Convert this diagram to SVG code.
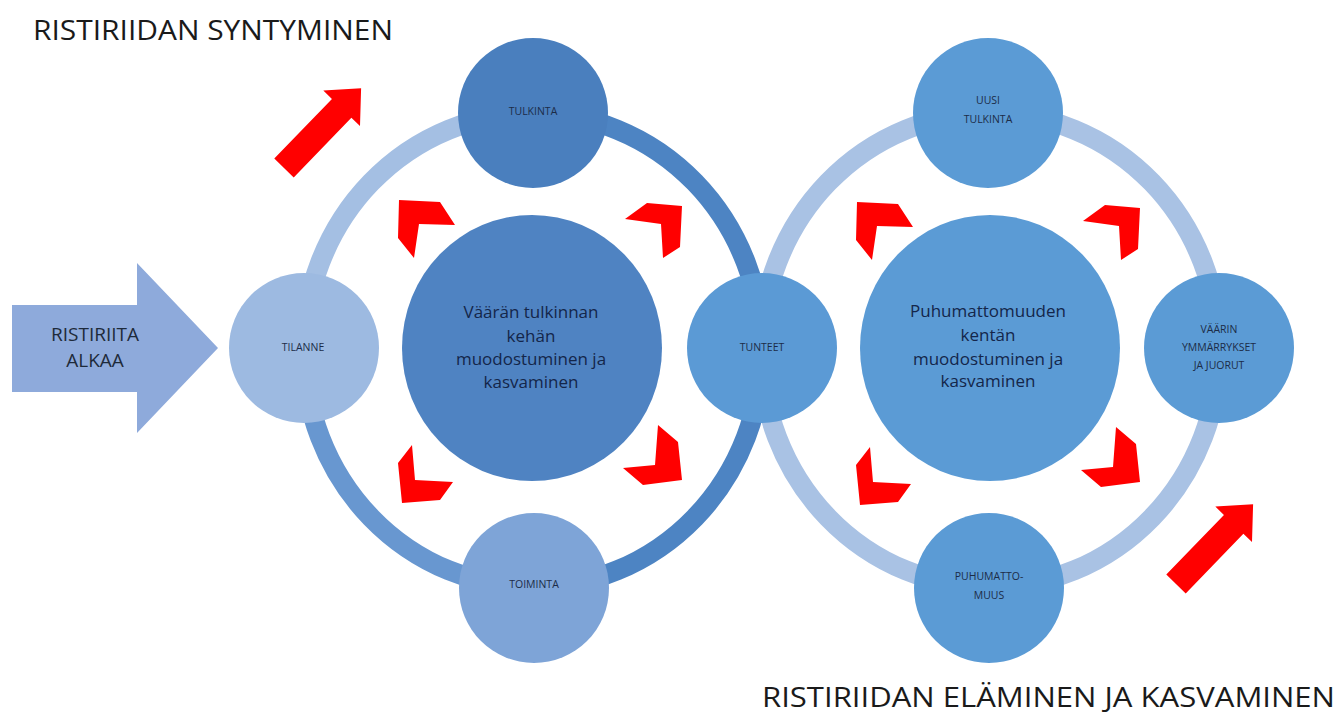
<svg xmlns="http://www.w3.org/2000/svg" width="1340" height="716" viewBox="0 0 1340 716">
  <style>
    .title { font-family: "Open Sans", "Liberation Sans", sans-serif; font-size: 27px; fill: #1a1a1a; }
    .lbl { font-family: "Open Sans", "Liberation Sans", sans-serif; font-size: 10.5px; fill: #1c2c48; text-anchor: middle; dominant-baseline: middle; }
    .big { font-family: "Open Sans", "Liberation Sans", sans-serif; font-size: 17px; fill: #14264a; text-anchor: middle; dominant-baseline: middle; }
    .arrowtxt { font-family: "Open Sans", "Liberation Sans", sans-serif; font-size: 19px; fill: #1e2a3a; text-anchor: middle; dominant-baseline: middle; }
    .ring { fill: none; stroke-width: 20; }
    .red { fill: #ff0000; }
  </style>
  <defs>
    <!-- straight block arrow pointing along +x, tail at origin -->
    <path id="blockArrow" d="M0,-13.5 L83,-13.5 L83,-25.5 L111,0 L83,25.5 L83,13.5 L0,13.5 Z"/>
    <!-- corner chevrons around the centre of a ring -->
    <g id="chevrons">
      <polygon points="399,200 440,202 455,225 419,224 414,258 398,238"/>
      <polygon points="625,219 647,203 682,206 680,247 663,258 661,224"/>
      <polygon points="658,425 678,442 682,480 643,485 623,468 655,465"/>
      <polygon points="412,445 415,480 453,482 440,500 402,503 398,463"/>
    </g>
  </defs>

  <rect width="1340" height="716" fill="#ffffff"/>

  <!-- headings -->
  <text class="title" x="33" y="40" textLength="360" lengthAdjust="spacingAndGlyphs">RISTIRIIDAN SYNTYMINEN</text>
  <text class="title" x="762" y="707" textLength="573" lengthAdjust="spacingAndGlyphs">RISTIRIIDAN ELÄMINEN JA KASVAMINEN</text>

  <!-- ring arcs connecting the nodes -->
  <g id="connectors">
    <path class="ring" stroke="#a4bfe3" d="M304,350 A229,237 0 0 1 533,113"/>
    <path class="ring" stroke="#4d84c3" d="M533,113 A229,237 0 0 1 762,350"/>
    <path class="ring" stroke="#4d84c3" d="M762,350 A229,237 0 0 1 533,587"/>
    <path class="ring" stroke="#6897d0" d="M533,587 A229,237 0 0 1 304,350"/>

    <path class="ring" stroke="#a9c2e4" d="M761,350 A229,237 0 0 1 990,113"/>
    <path class="ring" stroke="#a9c2e4" d="M990,113 A229,237 0 0 1 1219,350"/>
    <path class="ring" stroke="#a9c2e4" d="M1219,350 A229,237 0 0 1 990,587"/>
    <path class="ring" stroke="#a9c2e4" d="M990,587 A229,237 0 0 1 761,350"/>
  </g>

  <!-- entry arrow -->
  <g id="ristiriita-alkaa">
    <polygon fill="#8eaadb" points="12,305 137,305 137,263 218,348 137,433 137,392 12,392"/>
    <text class="arrowtxt" x="95" y="336">RISTIRIITA</text>
    <text class="arrowtxt" x="95" y="362">ALKAA</text>
  </g>

  <!-- large red arrows -->
  <g id="red-arrows" class="red">
    <use href="#blockArrow" transform="translate(284,168) rotate(-46)"/>
    <use href="#blockArrow" transform="translate(1176,584) rotate(-46)"/>
  </g>

  <!-- chevrons around both centres -->
  <g id="chevrons-left" class="red"><use href="#chevrons"/></g>
  <g id="chevrons-right" class="red"><use href="#chevrons" transform="translate(458,2)"/></g>

  <!-- left cycle -->
  <g id="center-left">
    <ellipse cx="532" cy="348" rx="130" ry="133" fill="#4f83c2"/>
    <text class="big" x="531" y="313">Väärän tulkinnan</text>
    <text class="big" x="531" y="337">kehän</text>
    <text class="big" x="531" y="360">muodostuminen ja</text>
    <text class="big" x="531" y="383">kasvaminen</text>
  </g>
  <g id="tulkinta">
    <circle cx="533" cy="113" r="75" fill="#4a7fbe"/>
    <text class="lbl" x="533" y="112">TULKINTA</text>
  </g>
  <g id="tilanne">
    <circle cx="304" cy="348" r="75" fill="#9dbae1"/>
    <text class="lbl" x="303" y="348">TILANNE</text>
  </g>
  <g id="toiminta">
    <circle cx="534" cy="588" r="75" fill="#7ea4d7"/>
    <text class="lbl" x="534" y="585">TOIMINTA</text>
  </g>
  <g id="tunteet">
    <circle cx="762" cy="348" r="75" fill="#5b9ad5"/>
    <text class="lbl" x="762" y="348">TUNTEET</text>
  </g>

  <!-- right cycle -->
  <g id="center-right">
    <ellipse cx="990" cy="348" rx="130" ry="133" fill="#5b9bd5"/>
    <text class="big" x="988" y="312">Puhumattomuuden</text>
    <text class="big" x="988" y="336">kentän</text>
    <text class="big" x="988" y="360">muodostuminen ja</text>
    <text class="big" x="988" y="382">kasvaminen</text>
  </g>
  <g id="uusi-tulkinta">
    <circle cx="988" cy="113" r="75" fill="#5b9bd5"/>
    <text class="lbl" x="988" y="101">UUSI</text>
    <text class="lbl" x="988" y="120">TULKINTA</text>
  </g>
  <g id="vaarin-ymmarrykset">
    <circle cx="1219" cy="348" r="75" fill="#5b9bd5"/>
    <text class="lbl" x="1219" y="330">VÄÄRIN</text>
    <text class="lbl" x="1219" y="348">YMMÄRRYKSET</text>
    <text class="lbl" x="1219" y="366">JA JUORUT</text>
  </g>
  <g id="puhumattomuus">
    <circle cx="989" cy="588" r="75" fill="#5b9bd5"/>
    <text class="lbl" x="989" y="577">PUHUMATTO-</text>
    <text class="lbl" x="989" y="596">MUUS</text>
  </g>
</svg>
